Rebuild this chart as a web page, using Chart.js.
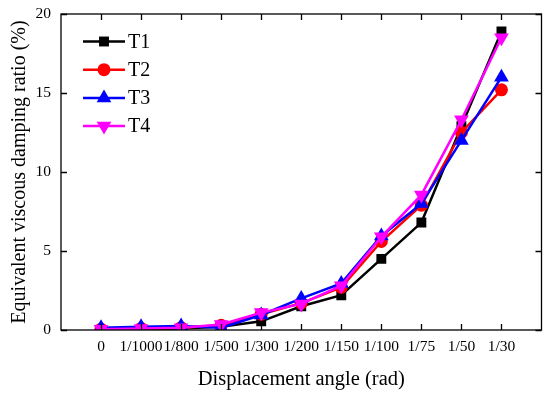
<!DOCTYPE html>
<html><head><meta charset="utf-8">
<script src="https://cdn.jsdelivr.net/npm/chart.js@4/dist/chart.umd.min.js"></script>
<style>html,body{margin:0;padding:0;background:#fff}#wrap{width:550px;height:396px}</style>
</head><body><div id="wrap"><canvas id="c" width="550" height="396"></canvas></div>
<script>
const categories = ['0','1/1000','1/800','1/500','1/300','1/200','1/150','1/100','1/75','1/50','1/30'];
const T1 = [0.0, 0.05, 0.1, 0.2, 0.55, 1.5, 2.2, 4.5, 6.8, 12.9, 18.9];
const T2 = [0.05, 0.1, 0.15, 0.3, 1.0, 1.7, 2.7, 5.6, 7.9, 12.5, 15.2];
const T3 = [0.15, 0.2, 0.25, 0.15, 0.95, 2.0, 2.95, 5.95, 8.0, 12.0, 16.0];
const T4 = [0.05, 0.1, 0.15, 0.35, 1.1, 1.65, 2.8, 5.9, 8.55, 13.3, 18.5];
const yTicks = [0, 5, 10, 15, 20];
const FONT = '"Liberation Serif", "Times New Roman", serif';

function pts(arr){ return arr.map((v,i)=>({x:i,y:v})); }
const series = [
  {label:'T1', data:T1, color:'#000000', style:'rect', rot:0, r:7, order:3},
  {label:'T2', data:T2, color:'#ff0000', style:'circle', rot:0, r:6.5, order:2},
  {label:'T3', data:T3, color:'#0000ff', style:'triangle', rot:0, r:8.5, order:1},
  {label:'T4', data:T4, color:'#ff00ff', style:'triangle', rot:180, r:8.5, order:0}
];

const frame = {
  id:'frame',
  afterDraw(chart){
    const ctx = chart.ctx, a = chart.chartArea, xs = chart.scales.x, ys = chart.scales.y;
    ctx.save();
    ctx.strokeStyle = '#000'; ctx.lineWidth = 1.3;
    ctx.strokeRect(a.left, a.top, a.right-a.left, a.bottom-a.top);
    ctx.beginPath();
    for (let i=0;i<categories.length;i++){
      const px = Math.round(xs.getPixelForValue(i))+0.5;
      ctx.moveTo(px, a.bottom); ctx.lineTo(px, a.bottom-6);
      ctx.moveTo(px, a.top); ctx.lineTo(px, a.top+6);
    }
    for (const t of yTicks){
      const py = Math.round(ys.getPixelForValue(t))+0.5;
      ctx.moveTo(a.left, py); ctx.lineTo(a.left+6, py);
      ctx.moveTo(a.right, py); ctx.lineTo(a.right-6, py);
    }
    ctx.stroke();
    // legend
    const lx = a.left + 22, ly0 = a.top + 27.5, dy = 28.2;
    series.forEach((s, i) => {
      const y = ly0 + i*dy;
      ctx.strokeStyle = s.color; ctx.lineWidth = 2.5;
      ctx.beginPath(); ctx.moveTo(lx, y); ctx.lineTo(lx+42, y); ctx.stroke();
      ctx.fillStyle = s.color;
      Chart.helpers.drawPoint(ctx, {pointStyle:s.style, rotation:s.rot, radius:s.r, borderWidth:0}, lx+21, y);
      ctx.fillStyle = '#000';
      ctx.font = '20px ' + FONT;
      ctx.textBaseline = 'middle'; ctx.textAlign = 'left';
      ctx.fillText(s.label, lx+45, y+1);
    });
    ctx.restore();
  }
};

new Chart(document.getElementById('c'), {
  type:'line',
  data:{
    datasets: series.map(s => ({
      label:s.label, data:pts(s.data), borderColor:s.color, backgroundColor:s.color,
      borderWidth:2.5, pointStyle:s.style, pointRotation:s.rot, pointRadius:s.r,
      pointBorderWidth:0, pointBackgroundColor:s.color, order:s.order, tension:0
    }))
  },
  options:{
    responsive:false, animation:false,
    layout:{padding:{top:14, right:7, left:0, bottom:0}},
    plugins:{legend:{display:false}, tooltip:{enabled:false}},
    scales:{
      x:{
        type:'linear', min:-1, max:11,
        afterBuildTicks(axis){ axis.ticks = categories.map((c,i)=>({value:i})); },
        afterFit(axis){ axis.height = 66; axis.paddingLeft = 0; axis.paddingRight = 0; },
        grid:{display:false, drawTicks:false}, border:{display:false},
        ticks:{autoSkip:false, maxRotation:0, minRotation:0, padding:8, color:'#000',
          font:{family:FONT, size:15.5},
          callback:(v)=>categories[v] ?? ''},
        title:{display:true, text:'Displacement angle (rad)', color:'#000',
          font:{family:FONT, size:20.5}, padding:{top:8}}
      },
      y:{
        min:0, max:20,
        afterBuildTicks(axis){ axis.ticks = yTicks.map(v=>({value:v})); },
        afterFit(axis){ axis.width = 61; axis.paddingTop = 0; axis.paddingBottom = 0; },
        grid:{display:false, drawTicks:false}, border:{display:false},
        ticks:{padding:10, color:'#000', font:{family:FONT, size:15.5}},
        title:{display:true, text:'Equivalent viscous damping ratio (%)', color:'#000',
          font:{family:FONT, size:20}, padding:{bottom:0, top:8}}
      }
    }
  },
  plugins:[frame]
});
</script></body></html>
